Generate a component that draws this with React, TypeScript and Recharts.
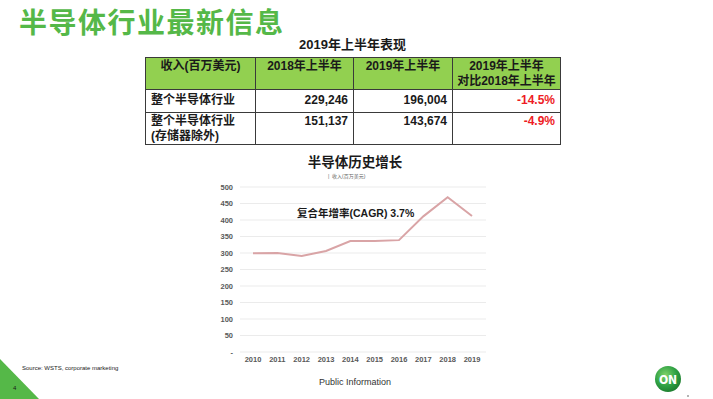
import React from 'react'
import { LineChart, Line, XAxis, YAxis, CartesianGrid } from 'recharts'

// revenue, billions USD (WSTS)
const years = ['2010', '2011', '2012', '2013', '2014', '2015', '2016', '2017', '2018', '2019']
const revenue = [299, 300, 291, 306, 336, 336, 339, 411, 469, 412]
const yTicks = [0, 50, 100, 150, 200, 250, 300, 350, 400, 450, 500]

// H1 table
const tableHeader = ['收入(百万美元)', '2018年上半年', '2019年上半年', '2019年上半年\n对比2018年上半年']
const rowLabels = ['整个半导体行业', '整个半导体行业\n(存储器除外)']
const h1_2018 = ['229,246', '151,137']
const h1_2019 = ['196,004', '143,674']
const yoyChange = ['-14.5%', '-4.9%']

const FONT = '"Liberation Sans", Arial, "Noto Sans CJK SC", sans-serif'
const GREEN = '#55b848'

const data = years.map((year, i) => ({ year, value: revenue[i] }))

const colWidths = [110, 98, 99, 108]
const rowHeights = [23, 32]
const rowPadTop = [3, 1]

export default function App() {
  const cell: React.CSSProperties = {
    border: '1px solid #3a3a3a',
    padding: '1px 5px 0 5px',
    fontWeight: 'bold',
    fontSize: 12,
    color: '#1a1a1a',
    verticalAlign: 'top',
    whiteSpace: 'pre-line',
    lineHeight: '15px',
    boxSizing: 'border-box',
  }

  return (
    <div
      style={{
        position: 'fixed',
        left: 0,
        top: 0,
        width: 713,
        height: 399,
        background: '#fff',
        overflow: 'hidden',
        fontFamily: FONT,
      }}
    >
      {/* page title */}
      <div
        style={{
          position: 'absolute',
          left: 19,
          top: 6,
          fontSize: 28,
          fontWeight: 'bold',
          color: GREEN,
          letterSpacing: 1.5,
          lineHeight: '36px',
        }}
      >
        半导体行业最新信息
      </div>

      {/* table title */}
      <div
        style={{
          position: 'absolute',
          left: 145,
          width: 415,
          top: 37,
          textAlign: 'center',
          fontSize: 13,
          fontWeight: 'bold',
          color: '#1a1a1a',
          lineHeight: '16px',
        }}
      >
        2019年上半年表现
      </div>

      <table
        style={{
          position: 'absolute',
          left: 145,
          top: 57,
          borderCollapse: 'collapse',
          tableLayout: 'fixed',
          width: 415,
        }}
      >
        <colgroup>
          {colWidths.map((w, i) => (
            <col key={i} style={{ width: w }} />
          ))}
        </colgroup>
        <tbody>
          <tr style={{ height: 32, background: '#92d050' }}>
            {tableHeader.map((h, i) => (
              <td key={i} style={{ ...cell, textAlign: 'center', padding: '1px 2px 0 2px' }}>
                {h}
              </td>
            ))}
          </tr>
          {rowLabels.map((label, r) => {
            const pad = { paddingTop: rowPadTop[r] }
            return (
              <tr key={r} style={{ height: rowHeights[r] }}>
                <td style={{ ...cell, ...pad }}>{label}</td>
                <td style={{ ...cell, ...pad, textAlign: 'right' }}>{h1_2018[r]}</td>
                <td style={{ ...cell, ...pad, textAlign: 'right' }}>{h1_2019[r]}</td>
                <td style={{ ...cell, ...pad, textAlign: 'right', color: '#ee1c25' }}>{yoyChange[r]}</td>
              </tr>
            )
          })}
        </tbody>
      </table>

      {/* chart title */}
      <div
        style={{
          position: 'absolute',
          left: 200,
          width: 310,
          top: 154,
          textAlign: 'center',
          fontSize: 13.5,
          fontWeight: 'bold',
          color: '#1a1a1a',
          lineHeight: '18px',
        }}
      >
        半导体历史增长
      </div>
      <div
        style={{
          position: 'absolute',
          left: 328,
          top: 172,
          fontSize: 5,
          color: '#666',
          lineHeight: '8px',
        }}
      >
        |&nbsp;&nbsp;收入(百万美元)
      </div>

      <div style={{ position: 'absolute', left: 200, top: 170 }}>
        <LineChart width={300} height={210} data={data} margin={{ top: 17, right: 14, bottom: 0, left: 10 }}>
          <CartesianGrid vertical={false} stroke="#ebebeb" strokeWidth={1} />
          <XAxis
            dataKey="year"
            axisLine={false}
            tickLine={false}
            tickSize={0}
            tickMargin={5}
            height={28}
            padding={{ left: 13, right: 14 }}
            interval={0}
            tick={{ fontSize: 7.5, fill: '#595959', fontWeight: 'bold' }}
          />
          <YAxis
            domain={[0, 500]}
            ticks={yTicks}
            width={30}
            axisLine={false}
            tickLine={false}
            tickSize={0}
            tickMargin={7}
            interval={0}
            tickFormatter={(v: number) => (v === 0 ? '-' : String(v))}
            tick={{ fontSize: 7.5, fill: '#595959', fontWeight: 'bold' }}
          />
          <Line
            type="linear"
            dataKey="value"
            stroke="#d9a4a6"
            strokeWidth={2}
            dot={false}
            isAnimationActive={false}
          />
        </LineChart>
      </div>

      {/* CAGR note */}
      <div
        style={{
          position: 'absolute',
          left: 297,
          top: 206,
          fontSize: 10.5,
          fontWeight: 'bold',
          color: '#1a1a1a',
          lineHeight: '14px',
        }}
      >
        复合年增率(CAGR) 3.7%
      </div>

      {/* footer */}
      <div style={{ position: 'absolute', left: 22, top: 364, fontSize: 6, color: '#1a1a1a', lineHeight: '8px' }}>
        Source: WSTS, corporate marketing
      </div>
      <svg width={713} height={399} style={{ position: 'absolute', left: 0, top: 0 }}>
        <defs>
          <radialGradient id="onGrad" cx="40%" cy="35%" r="70%">
            <stop offset="0%" stopColor="#7fd36a" />
            <stop offset="60%" stopColor="#2ea043" />
            <stop offset="100%" stopColor="#1d7a2e" />
          </radialGradient>
        </defs>
        <polygon points="0,359 0,399 39,399" fill={GREEN} />
        <text x={13} y={390} fontSize={6} fill="#1a1a1a" fontFamily={FONT}>
          4
        </text>
        <circle cx={668} cy={379} r={13} fill="url(#onGrad)" />
        <text
          x={668}
          y={383.5}
          textAnchor="middle"
          fontSize={12}
          fontWeight="bold"
          fill="#fff"
          fontFamily='"DejaVu Sans Condensed", "Liberation Sans Narrow", sans-serif'
        >
          ON
        </text>
        <circle cx={688} cy={396} r={0.8} fill="#555" />
      </svg>
      <div
        style={{
          position: 'absolute',
          left: 250,
          width: 210,
          top: 376,
          textAlign: 'center',
          fontSize: 9,
          color: '#333',
          lineHeight: '12px',
        }}
      >
        Public Information
      </div>
    </div>
  )
}
